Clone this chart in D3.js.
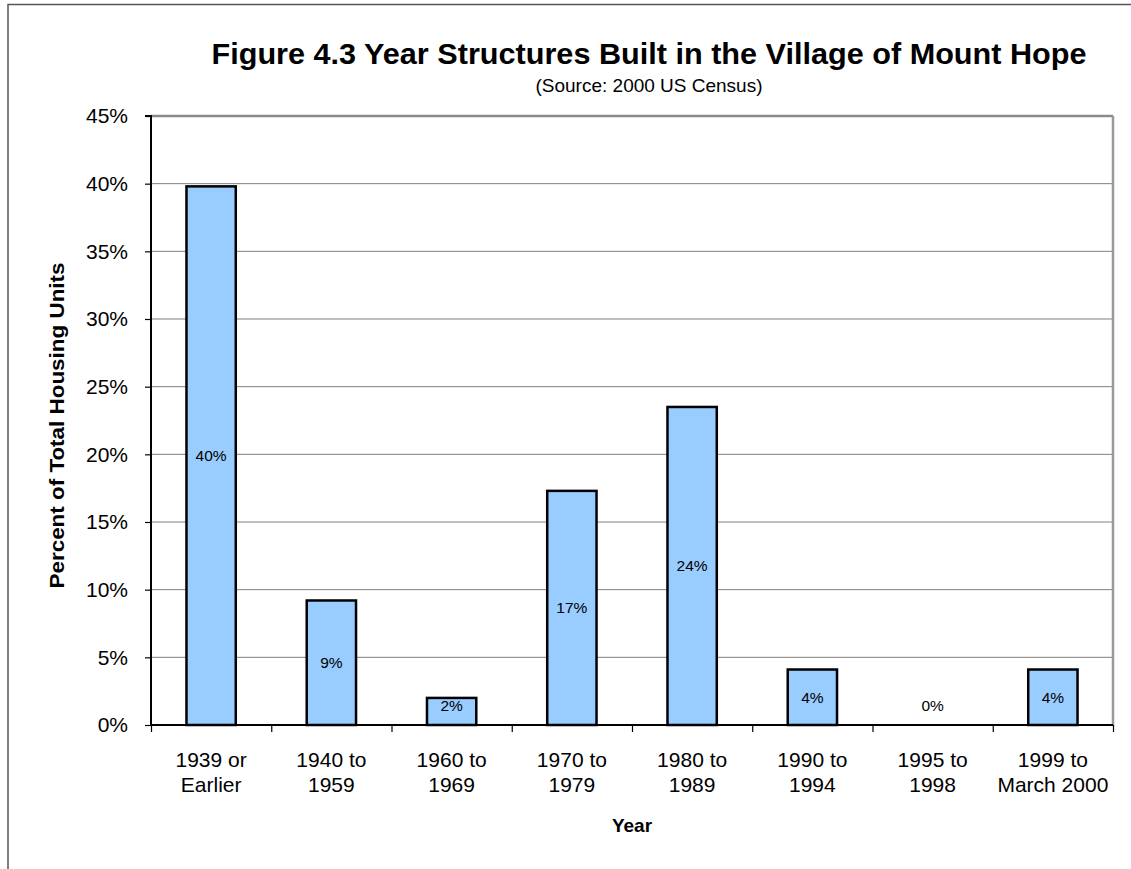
<!DOCTYPE html>
<html><head><meta charset="utf-8">
<script src="https://cdn.jsdelivr.net/npm/d3@7"></script>
<style>body{margin:0;background:#fff}svg{display:block;font-family:Arial,"Liberation Sans",sans-serif}</style>
</head><body><svg id="c" width="1131" height="869"></svg>
<script>
const categories = [["1939 or","Earlier"],["1940 to","1959"],["1960 to","1969"],["1970 to","1979"],["1980 to","1989"],["1990 to","1994"],["1995 to","1998"],["1999 to","March 2000"]];
const values = [39.8, 9.2, 2.0, 17.3, 23.5, 4.1, 0.0, 4.1];
const valueLabels = ["40%","9%","2%","17%","24%","4%","0%","4%"];
const yTicks = [0,5,10,15,20,25,30,35,40,45];

const svg = d3.select("#c");
const L=151, R=1113, T=116, B=725;
const x = d3.scaleBand().domain(d3.range(categories.length)).range([L,R]).paddingInner(0.59).paddingOuter(0.295);
const xb = d3.scaleLinear().domain([0,categories.length]).range([L,R]);
const y = d3.scaleLinear().domain([0,45]).range([B,T]);

// outer frame
svg.append("path").attr("d",`M8,869V4.5H1131`).attr("fill","none").attr("stroke","#555").attr("stroke-width",1.5);

// gridlines
svg.append("g").selectAll("line").data(yTicks.filter(d=>d>0)).join("line")
 .attr("x1",L).attr("x2",R).attr("y1",d=>y(d)).attr("y2",d=>y(d))
 .attr("stroke",d=>d===45?"#8a8a8a":"#7f7f7f").attr("stroke-width",d=>d===45?2.5:1);
// right border
svg.append("line").attr("x1",R).attr("x2",R).attr("y1",T).attr("y2",B+1).attr("stroke","#999").attr("stroke-width",2.5);

// bars
svg.append("g").selectAll("rect").data(values).join("rect")
 .attr("x",(d,i)=>x(i)).attr("width",x.bandwidth())
 .attr("y",d=>y(d)).attr("height",d=>B-y(d))
 .attr("fill",d=>d>0?"#99CCFF":"none").attr("stroke",d=>d>0?"#000":"none").attr("stroke-width",2.5);

// value labels
svg.append("g").selectAll("text").data(values).join("text")
 .attr("x",(d,i)=>x(i)+x.bandwidth()/2)
 .attr("y",d=>Math.min((y(d)+B)/2, B-20)+5.5)
 .attr("text-anchor","middle").attr("font-size",15.5).attr("fill","#000")
 .text((d,i)=>valueLabels[i]);

// y axis
const ya = svg.append("g").attr("transform",`translate(${L},0)`)
 .call(d3.axisLeft(y).tickValues(yTicks).tickFormat(d=>d+"%").tickSize(6).tickPadding(17));
ya.select(".domain").attr("stroke","#000").attr("stroke-width",2).attr("d",`M-6,${T}H0V${B}`);
ya.selectAll(".tick line").attr("stroke","#000").attr("stroke-width",1.2);
ya.selectAll(".tick text").attr("font-size",21).attr("fill","#000").attr("font-family","Arial,'Liberation Sans',sans-serif");

// x axis
const xa = svg.append("g").attr("transform",`translate(0,${B})`)
 .call(d3.axisBottom(xb).tickValues(d3.range(categories.length+1)).tickFormat("").tickSize(7));
xa.select(".domain").attr("stroke","#000").attr("stroke-width",2).attr("d",`M${L},0H${R}`);
xa.selectAll(".tick line").attr("stroke","#000").attr("stroke-width",1.2);

const xl = svg.append("g").selectAll("text").data(categories).join("text")
 .attr("text-anchor","middle").attr("font-size",21).attr("fill","#000")
 .attr("transform",(d,i)=>`translate(${x(i)+x.bandwidth()/2},${B+42})`);
xl.selectAll("tspan").data(d=>d).join("tspan").attr("x",0).attr("dy",(d,j)=>j===0?0:24.5).text(d=>d);

// titles
const cx = 649;
svg.append("text").attr("x",cx).attr("y",64).attr("text-anchor","middle").attr("font-size",29).attr("font-weight","bold")
 .attr("textLength",875).attr("lengthAdjust","spacingAndGlyphs")
 .text("Figure 4.3 Year Structures Built in the Village of Mount Hope");
svg.append("text").attr("x",cx).attr("y",92).attr("text-anchor","middle").attr("font-size",18.5)
 .attr("textLength",227).attr("lengthAdjust","spacingAndGlyphs").text("(Source: 2000 US Census)");
svg.append("text").attr("transform",`translate(64,${(T+B)/2+5}) rotate(-90)`).attr("text-anchor","middle").attr("font-size",19.5).attr("font-weight","bold")
 .attr("textLength",326).attr("lengthAdjust","spacingAndGlyphs").text("Percent of Total Housing Units");
svg.append("text").attr("x",(L+R)/2).attr("y",832).attr("text-anchor","middle").attr("font-size",19).attr("font-weight","bold").text("Year");
</script></body></html>
